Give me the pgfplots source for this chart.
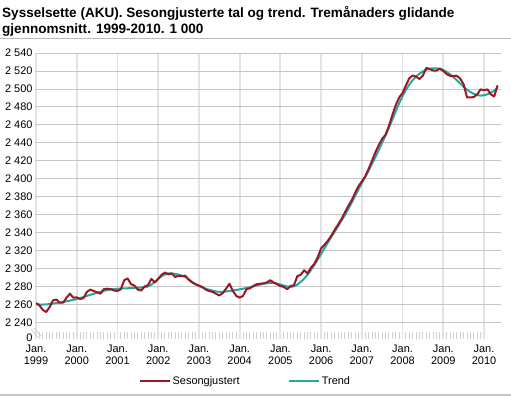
\documentclass[border=0pt]{standalone}
\usepackage{fontspec}
\setmainfont{Liberation Sans}
\usepackage{pgfplots}
\usepackage{pgfplotstable}
\pgfplotsset{compat=1.18}
\definecolor{ssbred}{RGB}{155,24,34}
\definecolor{ssbteal}{RGB}{38,166,160}
\pgfplotstableread{
m v
0 2261.5
1 2259
2 2254
3 2251.5
4 2257
5 2264.5
6 2265.5
7 2262
8 2262
9 2267.5
10 2272
11 2267.5
12 2268
13 2266
14 2267
15 2274
16 2276.5
17 2275
18 2273.5
19 2272
20 2277
21 2277.5
22 2277
23 2275.5
24 2275
25 2277
26 2287
27 2289
28 2282.5
29 2281
30 2276.5
31 2275.5
32 2280
33 2281.5
34 2288.5
35 2284.5
36 2288.5
37 2293
38 2295.5
39 2293.5
40 2294.5
41 2290.5
42 2292
43 2291.5
44 2292
45 2287.5
46 2284.5
47 2282.5
48 2281
49 2279.5
50 2276.5
51 2275
52 2274
53 2272
54 2270
55 2272.5
56 2277.5
57 2283
58 2275
59 2269.5
60 2267.5
61 2269.5
62 2277
63 2278
64 2280.5
65 2282.5
66 2283
67 2283.5
68 2284.5
69 2287
70 2284.5
71 2282.5
72 2280.5
73 2279.5
74 2277
75 2280.5
76 2281.5
77 2291.5
78 2293
79 2298
80 2294.5
81 2301
82 2305
83 2312.5
84 2322.5
85 2326.5
86 2331
87 2336.5
88 2343
89 2349
90 2355
91 2362.5
92 2369.5
93 2376
94 2384
95 2391.5
96 2397
97 2402.5
98 2411
99 2420
100 2429.5
101 2437.5
102 2444.5
103 2449
104 2459
105 2471
106 2482
107 2490.5
108 2495.5
109 2504
110 2512
111 2515
112 2513.5
113 2511
114 2515
115 2523.5
116 2522
117 2520.5
118 2520.5
119 2522.5
120 2520
121 2516.5
122 2514.5
123 2514.5
124 2514.5
125 2511.5
126 2505
127 2490.5
128 2490.5
129 2491
130 2494
131 2499.5
132 2498.5
133 2499.5
134 2494
135 2491.5
136 2504
}\sesong
\pgfplotstableread{
m v
0 2260
3 2260
6 2261.5
9 2263.5
12 2266
15 2269.5
18 2273
21 2276
24 2277.5
27 2278
30 2278.5
33 2280
35 2285
37 2291.5
39 2294.5
41 2294
44 2290.5
47 2282.5
50 2277.5
54 2274
58 2275.5
61 2277.5
64 2280
67 2283
70 2284
73 2281
75 2279.5
77 2282
80 2293
83 2310
86 2329
89 2347
92 2366
95 2388
98 2409
101 2432
104 2457
107 2484
109 2499
111 2510
113 2517
115 2521.5
117 2523
119 2522.5
121 2519
123 2513
125 2506
127 2499
129 2494.5
131 2492.5
133 2494
135 2498
136 2502
}\trend
\begin{document}
\begin{tikzpicture}
\useasboundingbox (0bp,0bp) rectangle (511bp,-396bp);
\node[anchor=base west, inner sep=0pt, font=\fontsize{13.6}{16}\selectfont\bfseries] at (2bp,-17bp) {Sysselsette (AKU). Sesongjusterte tal og trend. Tremånaders glidande};
\node[anchor=base west, inner sep=0pt, font=\fontsize{13.6}{16}\selectfont\bfseries] at (2bp,-33bp) {gjennomsnitt. 1999-2010. 1 000};
\draw[gray!55, line width=1bp] (0bp,-38bp) -- (511bp,-38bp);
\draw[gray!45, line width=2bp] (0bp,-394.5bp) -- (511bp,-394.5bp);
\begin{axis}[
  at={(36bp,-339bp)}, anchor=south west,
  width=465bp, height=286bp, scale only axis,
  xmin=0, xmax=137, ymin=2221.5, ymax=2540,
  axis line style={draw=none},
  xtick={0,12,...,132},
  xticklabels={{Jan.\\1999},{Jan.\\2000},{Jan.\\2001},{Jan.\\2002},{Jan.\\2003},{Jan.\\2004},{Jan.\\2005},{Jan.\\2006},{Jan.\\2007},{Jan.\\2008},{Jan.\\2009},{Jan.\\2010}},
  xticklabel style={align=center, font=\fontsize{11}{12}\selectfont, yshift=-2bp},
  minor x tick num=11,
  tick align=inside, xtick pos=lower, ytick pos=left,
  major tick length=0pt, minor tick length=7bp,
  minor tick style={gray!35, line width=1bp},
  xmajorgrids, major x grid style={gray!22, line width=1.8bp},
  ymajorgrids, major y grid style={gray!45, line width=0.8bp},
  ytick={2240,2260,...,2540},
  yticklabels={2 240,2 260,2 280,2 300,2 320,2 340,2 360,2 380,2 400,2 420,2 440,2 460,2 480,2 500,2 520,2 540},
  extra y ticks={2221.5}, extra y tick labels={0},
  extra y tick style={grid=none, yticklabel style={yshift=1.5bp}},
  yticklabel style={font=\fontsize{11}{12}\selectfont},
  legend style={at={(0.450,-0.147)}, anchor=center, draw=none, fill=none,
    legend columns=2, font=\fontsize{11}{13}\selectfont,
    /tikz/every even column/.append style={column sep=46bp}},
  legend image code/.code={\draw[#1] (0bp,0bp) -- (30bp,0bp);},
]
\addlegendimage{ssbred, line width=2.2bp}
\addlegendentry{Sesongjustert}
\addlegendimage{ssbteal, line width=2.2bp}
\addlegendentry{Trend}
\addplot[ssbteal, line width=2bp, smooth, tension=0.5, forget plot] table[x=m, y=v] {\trend};
\addplot[ssbred, line width=2bp, line join=round, forget plot] table[x=m, y=v] {\sesong};
\end{axis}
\draw[gray!40, line width=0.8bp] (31bp,-329bp) -- (38bp,-337bp);
\draw[gray!40, line width=0.8bp] (34bp,-328bp) -- (41bp,-336bp);
\end{tikzpicture}
\end{document}
